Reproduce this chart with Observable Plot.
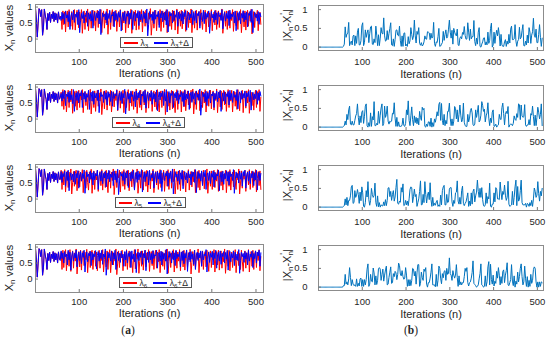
<!DOCTYPE html>
<html><head><meta charset="utf-8">
<script src="https://cdn.jsdelivr.net/npm/d3@7"></script>
<script src="https://cdn.jsdelivr.net/npm/@observablehq/plot@0.6"></script>
<style>
body{margin:0;background:#fff;}
#chart{position:relative;width:550px;height:338px;overflow:hidden;font-family:"Liberation Sans",Arial,sans-serif;color:#262626;}
.ylab{position:absolute;white-space:nowrap;font-size:11px;transform:translate(-50%,-50%) rotate(-90deg);line-height:1;}
.ylab sub{font-size:0.72em;vertical-align:-0.3em;line-height:0;}
.ylab .pr{font-size:0.8em;position:relative;top:-0.55em;left:-0.4em;margin-right:-0.25em;}
.legend{position:absolute;height:11px;border:1px solid #555;background:#fff;display:flex;align-items:center;font-size:8.5px;padding:0 3px;box-sizing:border-box;white-space:nowrap;}
.legend sub{font-size:0.72em;vertical-align:-0.25em;line-height:0;}
.sw{display:inline-block;width:14px;height:2px;margin-right:3px;}
.cap{position:absolute;font-family:"Liberation Serif","Times New Roman",serif;font-size:11.5px;transform:translate(-50%,-50%);}
</style></head>
<body><div id="chart"></div>
<script>
// Values in hundredths, sampled every 2nd iteration (n = 1, 3, 5, ...)
const step = 2;
// iterations 1..55: both trajectories coincide
const startVals = [96,60,6,50,95,90,70,92,12,35,94,75,62,30,80,58,84,52,78,64,86,55,82,60,79,50,85,62];

const blue3 = [70,58,84,62,80,48,88,66,76,54,86,30,72,82,60,90,52,78,68,
84,45,92,20,58,80,64,86,50,76,70,88,40,82,62,79,56,90,34,
74,84,58,80,66,88,47,93,14,50,82,70,78,60,86,44,80,64,90,
52,76,72,85,38,88,60,80,55,84,68,90,25,66,82,57,86,48,79,
71,87,46,82,63,90,30,75,84,56,80,66,89,42,85,60,78,52,88,
64,81,50,94,10,45,86,68,78,58,84,48,90,62,76,70,87,36,80,
66,88,54,82,60,86,44,92,22,62,85,72,80,50,88,58,76,68,90,
40,84,64,79,56,87,47,83,70,89,28,70,84,60,78,66,91,45,82,
58,88,50,80,72,86,34,78,82,55,90,48,84,62,80,68,88,18,56,
86,66,78,52,89,60,82,46,85,70,76,58,92,32,74,84,56,80,64,
87,42,90,62,78,70,84,50,88,26,68,83,58,86,48,80,66,89,54,
82,60,85,38,80,74,88,52,93,20,60,84,68,78,56,86,46,82,70];
const red3 = [72,66,30,88,45,85,22,70,88,38,92,60,40,86,30,80,92,28,74,
90,62,35,85,54,92,18,60,88,30,82,52,94,26,70,86,34,78,90,
42,88,25,76,90,36,84,58,92,20,66,88,34,80,50,94,15,58,86,
30,78,92,40,84,56,90,24,72,86,38,92,62,28,85,50,88,20,70,
88,35,80,62,93,18,60,86,42,90,28,76,84,30,88,54,92,22,66,
85,40,90,56,30,82,62,95,12,48,86,34,78,90,26,72,84,44,92,
24,70,88,36,84,58,92,20,62,86,40,80,30,90,55,88,28,74,94,
16,56,86,40,90,32,78,62,92,24,68,88,36,82,50,94,20,60,86,
34,80,90,28,74,86,42,92,58,30,84,62,90,22,70,86,38,82,56,
92,26,68,84,44,90,30,78,88,36,82,60,94,18,54,86,40,88,30,
76,90,34,82,58,92,24,66,86,42,88,30,80,60,92,20,62,86,38,
88,28,74,90,40,84,56,93,16,52,86,36,80,66,90,26,72,84,46];

const blue4 = [68,80,56,86,64,90,42,78,70,84,52,88,60,76,48,92,24,66,82,
58,86,50,80,72,89,36,82,62,86,54,78,68,90,30,74,84,56,88,
46,82,66,80,58,91,20,60,84,70,76,52,88,62,82,44,86,68,79,
55,87,40,84,64,78,72,90,28,70,82,58,86,48,80,66,93,16,54,
84,62,80,50,88,70,76,56,85,38,88,60,82,66,89,44,78,72,86,
52,90,34,76,84,58,80,68,88,46,83,62,79,54,91,26,68,85,60,
82,70,88,42,84,56,92,22,64,86,50,80,74,87,36,80,66,84,58,
89,48,76,70,86,55,82,40,90,60,78,64,88,30,72,84,52,86,62,
80,46,88,68,78,58,94,12,46,84,70,80,54,87,42,82,64,90,50,
78,72,85,36,80,62,88,54,84,66,90,24,66,82,56,86,48,79,70,
86,44,90,60,80,52,87,68,76,58,92,32,74,85,50,88,62,80,66,
88,40,82,70,86,54,90,28,70,84,60,78,64,89,46,82,58,86,72];
const red4 = [66,84,40,92,30,70,88,22,62,90,36,82,54,94,18,56,86,40,88,
28,74,90,36,82,60,92,20,66,86,42,80,30,88,58,93,16,52,84,
36,88,24,70,90,40,82,56,94,14,50,86,32,78,90,28,72,84,42,
90,22,64,86,38,80,58,92,26,68,88,34,82,50,90,20,60,86,36,
80,92,26,70,84,40,88,30,76,62,94,18,56,84,36,90,28,74,86,
44,92,20,62,86,34,80,56,90,24,70,88,38,84,30,92,50,22,78,
88,36,84,60,93,14,50,86,40,82,28,76,90,32,86,58,20,70,92,
30,80,62,90,22,68,86,38,92,26,64,88,44,80,34,90,56,94,16,
54,86,30,82,60,90,26,70,88,36,84,50,92,22,66,86,40,78,90,
32,74,88,28,80,58,94,20,62,86,38,88,30,76,90,44,84,24,70,
92,36,82,56,90,22,66,86,40,84,30,92,54,26,80,62,90,20,72,
86,34,88,50,92,18,58,84,42,80,28,74,90,36,86,60,92,24,68];

const blue5 = [62,86,52,80,70,88,40,84,58,90,26,68,82,60,78,54,87,46,80,
66,89,34,76,84,56,80,64,91,18,54,85,70,78,50,88,62,82,44,
86,60,79,72,90,30,74,83,56,88,48,80,66,87,38,82,62,90,54,
78,68,85,42,88,60,80,52,93,14,50,84,72,80,58,86,46,82,66,
89,36,78,82,56,86,64,90,28,70,84,52,88,60,79,68,92,22,62,
85,54,80,70,87,44,90,58,76,66,88,34,78,84,50,86,62,82,48,
90,24,66,84,58,80,72,88,40,82,64,86,52,94,16,54,86,68,78,
56,88,46,82,62,90,32,74,85,60,80,50,88,66,78,44,86,70,84,
52,92,20,60,86,64,80,56,88,42,84,70,90,30,72,82,58,86,48,
80,68,88,38,84,60,78,72,91,26,66,84,54,87,46,80,64,89,56,
84,44,86,70,78,58,92,18,58,85,66,80,50,88,62,82,40,86,72,
90,34,76,84,56,88,48,80,66,87,42,82,60,90,28,70,84,58,80];
const red5 = [60,90,30,86,44,92,22,66,88,36,84,58,94,16,52,86,40,80,90,
26,72,88,38,82,56,92,20,64,86,34,90,52,28,84,62,93,18,56,
88,30,80,60,90,24,70,86,42,92,28,76,84,36,90,54,20,72,88,
34,84,58,94,14,50,88,36,80,66,90,22,68,86,40,92,30,78,88,
42,90,26,70,84,38,92,56,30,82,62,94,18,54,86,34,80,90,28,
74,86,40,90,22,64,88,32,80,56,93,20,60,86,44,88,30,76,92,
36,82,60,90,24,68,86,40,92,30,78,88,34,84,54,94,16,52,86,
30,80,90,26,72,86,42,88,60,22,82,66,92,28,70,86,38,84,54,
92,20,62,86,36,90,28,76,84,44,90,32,80,58,94,18,56,86,40,
88,30,74,90,36,82,56,92,24,66,86,42,88,28,78,62,90,20,64,
86,40,92,28,72,84,38,90,54,30,82,60,94,16,50,88,34,80,62,
90,24,68,86,44,92,30,78,88,36,84,56,92,22,64,86,42,88,30];

const blue6 = [58,88,64,82,50,86,70,78,44,90,60,84,28,72,86,56,80,66,91,
38,76,84,58,88,48,82,68,90,22,62,85,54,80,72,87,42,84,60,
79,70,89,32,74,86,56,82,64,90,46,78,68,94,12,48,84,66,80,
56,88,44,82,62,90,30,72,85,58,80,52,87,66,78,40,86,60,89,
50,80,70,86,36,88,62,78,54,92,20,64,84,58,82,68,88,46,80,
66,90,26,70,84,52,86,60,80,48,89,64,76,72,90,34,78,83,56,
87,44,84,62,80,56,93,16,54,86,68,80,50,88,60,82,42,90,64,
78,70,86,38,84,58,88,48,80,66,91,24,68,84,54,86,62,79,46,
90,30,74,84,58,82,66,88,40,86,60,78,72,92,22,62,85,52,80,
68,87,44,82,64,90,34,76,84,56,88,46,80,70,86,50,83,62,90,
28,70,86,54,80,66,88,42,84,60,78,58,92,18,58,84,70,80,52,
86,62,82,44,90,56,78,68,87,36,80,64,88,50,84,72,90,40,82];
const red6 = [62,84,30,90,36,80,92,26,70,86,40,92,24,66,88,34,82,56,94,
16,52,86,38,90,28,76,88,42,84,60,93,20,64,86,36,80,90,30,
72,88,40,84,26,68,90,34,80,58,92,22,62,86,38,88,30,76,92,
20,60,86,44,82,56,94,14,50,88,36,80,66,90,26,72,84,40,92,
30,76,88,36,84,58,20,70,92,32,80,62,94,18,56,86,40,88,28,
74,90,38,82,60,92,24,66,86,42,88,30,78,90,34,84,54,92,20,
62,86,40,80,30,90,56,94,18,54,86,36,82,64,92,22,68,88,34,
84,56,92,26,72,86,38,90,28,78,88,36,82,60,93,16,52,86,42,
90,32,80,62,94,20,60,84,40,88,30,76,86,38,90,56,24,72,88,
36,84,60,92,22,66,86,44,90,28,78,88,34,82,54,94,18,56,86,
40,90,26,70,84,36,88,58,92,20,64,86,42,80,30,90,56,24,76,
88,34,82,62,92,22,68,86,40,90,30,78,88,36,84,58,92,26,70];

const lambdas = [3, 4, 5, 6];
const redTails = [red3, red4, red5, red6];
const blueTails = [blue3, blue4, blue5, blue6];
const xTicks = [100, 200, 300, 400, 500];
const yTicks = [0, 0.5, 1];
const legendLeft = [120, 112, 115, 119];
const legendWidth = [73, 73, 71, 73];

const toSeries = arr => arr.map((v, i) => ({n: 1 + step * i, v: v / 100}));

const chart = document.getElementById("chart");
const font = {fontFamily: "'Liberation Sans', Arial, sans-serif", fontSize: "9.5px", color: "#262626", background: "transparent", overflow: "visible"};
const fmt = d => String(d);

function place(el, left, top) {
  el.style.position = "absolute";
  el.style.left = left + "px";
  el.style.top = top + "px";
  chart.appendChild(el);
}

lambdas.forEach((lam, r) => {
  const redVals = startVals.concat(redTails[r]);
  const blueVals = startVals.concat(blueTails[r]);
  const red = toSeries(redVals);
  const blue = toSeries(blueVals);
  const m = Math.min(redVals.length, blueVals.length);
  const diff = toSeries(d3.range(m).map(i => Math.abs(redVals[i] - blueVals[i])));

  const left = Plot.plot({
    width: 275, height: 80,
    marginLeft: 35, marginRight: 12, marginTop: 4, marginBottom: 28,
    x: {domain: [1, 517]},
    y: {domain: [-0.42, 1.08]},
    style: font,
    marks: [
      Plot.lineY(red, {x: "n", y: "v", stroke: "#ff0000", strokeWidth: 1}),
      Plot.lineY(blue, {x: "n", y: "v", stroke: "#0000ff", strokeWidth: 1}),
      Plot.frame({stroke: "#8c8c8c"}),
      Plot.axisX({ticks: xTicks, tickSize: -3, tickFormat: () => "", label: null, stroke: "#777"}),
      Plot.axisY({ticks: yTicks, tickSize: -3, tickFormat: () => "", label: null, stroke: "#777"}),
      Plot.axisX({ticks: xTicks, tickSize: 0, tickPadding: 6, label: null}),
      Plot.axisY({ticks: yTicks, tickSize: 0, tickPadding: 3, tickFormat: fmt, label: null}),
      Plot.axisX({ticks: [], label: "Iterations (n)", labelAnchor: "center", labelArrow: "none", labelOffset: 24, fontSize: 11})
    ]
  });
  place(left, 0, 80 * r);

  const right = Plot.plot({
    width: 275, height: 80,
    marginLeft: 43, marginRight: 7, marginTop: 5, marginBottom: 30,
    x: {domain: [0, 514]},
    y: {domain: [-0.09, 1.11]},
    style: font,
    marks: [
      Plot.lineY(diff, {x: "n", y: "v", stroke: "#0072bd", strokeWidth: 1}),
      Plot.frame({stroke: "#8c8c8c"}),
      Plot.axisX({ticks: xTicks, tickSize: -3, tickFormat: () => "", label: null, stroke: "#777"}),
      Plot.axisY({ticks: yTicks, tickSize: -3, tickFormat: () => "", label: null, stroke: "#777"}),
      Plot.axisX({ticks: xTicks, tickSize: 0, tickPadding: 8, label: null}),
      Plot.axisY({ticks: yTicks, tickSize: 0, tickPadding: 11, tickFormat: fmt, label: null}),
      Plot.axisX({ticks: [], label: "Iterations (n)", labelAnchor: "center", labelArrow: "none", labelOffset: 27, fontSize: 11})
    ]
  });
  place(right, 275, 80 * r);

  const yl = document.createElement("div");
  yl.className = "ylab";
  yl.innerHTML = "X<sub>n</sub> values";
  place(yl, 9, 28 + 80 * r);

  const yr = document.createElement("div");
  yr.className = "ylab";
  yr.innerHTML = "|X<sub>n</sub>-X<sub>n</sub><span class='pr'>'</span>|";
  place(yr, 287, 25 + 80 * r);

  const lg = document.createElement("div");
  lg.className = "legend";
  lg.style.width = legendWidth[r] + "px";
  lg.innerHTML = `<span class="sw" style="background:#ff0000"></span><span>λ<sub>${lam}</sub></span>` +
    `<span class="sw" style="background:#0000ff;margin-left:6px"></span><span>λ<sub>${lam}</sub>+Δ</span>`;
  place(lg, legendLeft[r], 37 + 80 * r);
});

const capA = document.createElement("div");
capA.className = "cap";
capA.innerHTML = "(<b>a</b>)";
place(capA, 128, 330);
const capB = document.createElement("div");
capB.className = "cap";
capB.innerHTML = "(<b>b</b>)";
place(capB, 411, 330);
</script>
</body></html>
